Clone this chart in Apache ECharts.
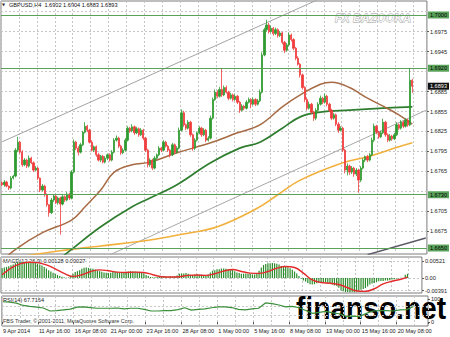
<!DOCTYPE html>
<html><head><meta charset="utf-8">
<script src="https://cdn.jsdelivr.net/npm/echarts@6/dist/echarts.min.js"></script>
<style>html,body{margin:0;padding:0;background:#fff}#c{width:450px;height:337px}</style>
</head><body><div id="c"></div>
<script>
// ---------- DATA ----------
const headerText = 'GBPUSD,H4  1.6902 1.6904 1.6883 1.6893';
const tickLabels = ['9 Apr 2014','11 Apr 16:00','16 Apr 08:00','21 Apr 00:00','23 Apr 16:00','28 Apr 08:00','1 May 00:00','5 May 16:00','8 May 08:00','13 May 00:00','15 May 16:00','20 May 08:00'];
const barSlots = 190;
const firstOpen = 1.6748;
const closes = [
 1.6745,1.6749,1.6743,1.6740,1.6755,1.6758,1.6797,1.6809,1.6794,1.6775,
 1.6782,1.6773,1.6785,1.6778,1.6767,1.6770,1.6755,1.6737,1.6743,1.6730,
 1.6715,1.6703,1.6722,1.6728,1.6718,1.6725,1.6716,1.6727,1.6722,1.6731,
 1.6725,1.6764,1.6809,1.6800,1.6794,1.6805,1.6824,1.6833,1.6827,1.6809,
 1.6797,1.6802,1.6790,1.6782,1.6788,1.6779,1.6785,1.6790,1.6782,1.6794,
 1.6812,1.6815,1.6803,1.6793,1.6797,1.6812,1.6830,1.6826,1.6832,1.6823,
 1.6829,1.6820,1.6827,1.6815,1.6797,1.6775,1.6782,1.6770,1.6785,1.6790,
 1.6800,1.6797,1.6809,1.6803,1.6797,1.6790,1.6805,1.6794,1.6800,1.6827,
 1.6853,1.6835,1.6830,1.6839,1.6820,1.6800,1.6812,1.6823,1.6830,1.6820,
 1.6827,1.6812,1.6815,1.6845,1.6873,1.6884,1.6878,1.6888,1.6880,1.6891,
 1.6884,1.6875,1.6880,1.6873,1.6878,1.6869,1.6857,1.6863,1.6860,1.6869,
 1.6873,1.6866,1.6873,1.6866,1.6871,1.6884,1.6940,1.6978,1.6985,1.6975,
 1.6980,1.6972,1.6978,1.6969,1.6973,1.6959,1.6947,1.6955,1.6970,1.6963,
 1.6950,1.6935,1.6926,1.6910,1.6891,1.6873,1.6860,1.6866,1.6854,1.6845,
 1.6857,1.6866,1.6875,1.6869,1.6878,1.6866,1.6857,1.6845,1.6850,1.6836,
 1.6827,1.6830,1.6797,1.6767,1.6773,1.6764,1.6770,1.6761,1.6767,1.6752,
 1.6770,1.6782,1.6787,1.6782,1.6790,1.6812,1.6833,1.6824,1.6817,1.6823,
 1.6839,1.6820,1.6812,1.6818,1.6814,1.6820,1.6835,1.6830,1.6839,1.6833,
 1.6842,1.6835,1.6902,1.6893];
// wick lengths in pips above max(open,close) / below min(open,close)
const upWick = [
 2,3,2,1,3,2,3,8,2,3, 3,2,4,2,2,3,2,1,3,2, 2,1,3,2,3,2,2,3,2,3, 2,3,4,2,3,3,2,6,2,2,
 3,2,2,3,2,2,3,2,2,3, 3,4,2,2,3,3,3,2,4,2, 3,2,3,2,2,2,3,2,3,2, 3,2,3,2,2,2,3,2,3,4,
 5,3,2,3,2,2,3,2,3,2, 3,2,3,4,3,4,3,4,32,3, 3,2,3,2,3,2,2,3,2,3, 3,2,3,2,3,4,4,3,8,3,
 4,2,3,2,3,2,2,3,4,2, 2,2,3,2,2,2,3,4,2,2, 3,3,4,2,4,2,2,2,3,2, 3,3,2,2,4,2,3,2,3,2,
 3,3,2,3,3,4,4,2,2,3, 5,2,2,3,2,3,4,2,3,2, 3,2,18,2];
const downWick = [
 2,3,2,3,2,2,2,3,2,3, 2,3,2,2,3,2,3,3,2,3, 3,6,2,3,2,3,46,2,3,2, 3,2,2,3,5,2,2,2,3,2,
 2,3,3,2,3,2,2,3,2,2, 2,2,3,3,2,2,2,3,2,3, 2,3,2,3,3,4,3,3,2,2, 2,3,2,2,3,4,2,3,2,2,
 2,3,3,2,3,4,3,2,2,3, 2,3,2,2,2,2,3,2,3,2, 2,3,2,3,2,3,4,2,3,2, 2,6,2,3,2,2,2,2,3,3,
 2,3,2,3,2,3,4,2,2,3, 3,3,2,4,3,4,3,2,3,4, 3,2,2,3,2,3,3,3,2,3, 4,2,3,5,8,4,3,4,3,19,
 3,2,3,3,2,2,3,3,3,2, 2,3,3,2,3,2,2,3,2,3, 2,3,2,10];
const priceGrid = [1.7005,1.6975,1.6945,1.6915,1.6885,1.6855,1.6825,1.6795,1.6765,1.6735,1.6705,1.6675];
const priceLabels = [1.6975,1.6945,1.6885,1.6855,1.6825,1.6795,1.6765,1.6705,1.6675];
const levelLines = [1.7000,1.6920,1.6730,1.6650];
const bidPrice = 1.6893;
// moving averages: [bar, price]
const maBrown = [[0,1.6630],[6,1.6648],[18,1.6673],[31,1.6692],[37,1.6712],[44,1.6737],[50,1.6764],[58,1.6775],[66,1.6779],[78,1.6793],[93,1.6808],[105,1.6823],[115,1.6835],[125,1.6862],[133,1.6880],[142,1.6896],[147,1.6899],[155,1.6891],[163,1.6875],[170,1.6863],[177,1.6850],[183,1.6836]];
const maGreen = [[21,1.6621],[31,1.6648],[44,1.6682],[58,1.6712],[66,1.6725],[78,1.6745],[93,1.6778],[106,1.6800],[115,1.6809],[125,1.6830],[133,1.6847],[142,1.6854],[155,1.6857],[170,1.6860],[183,1.6862]];
const maOrange = [[10,1.6638],[26,1.6646],[44,1.6653],[66,1.6662],[79,1.6670],[96,1.6682],[114,1.6710],[123,1.6730],[133,1.6752],[152,1.6778],[163,1.6787],[177,1.6802],[183,1.6808]];
// trend lines: [bar, price]
const channelUpper = [[0,1.68095],[189,1.7096]];
const channelLower = [[40,1.66273],[189,1.68568]];
const supportLine = [[163,1.6640],[189,1.66649]];
// MACD
const macdLabel = 'MACD(12,26,9) 0.00128 0.00027';
const macdValues = [
 .0030,.0032,.0034,.0036,.0039,.0041,.0045,.0048,.0049,.0049,
 .0050,.0050,.0050,.0049,.0048,.0046,.0044,.0041,.0038,.0034,
 .0029,.0024,.0020,.0016,.0013,.0009,.0006,.0004,.0002,.0001,
 .0002,.0006,.0013,.0018,.0021,.0024,.0028,.0031,.0032,.0031,
 .0029,.0028,.0026,.0023,.0021,.0019,.0017,.0016,.0015,.0016,
 .0018,.0019,.0018,.0016,.0016,.0017,.0019,.0020,.0021,.0020,
 .0020,.0019,.0019,.0017,.0014,.0009,.0006,.0003,.0002,.0002,
 .0003,.0003,.0005,.0005,.0005,.0004,.0005,.0004,.0005,.0008,
 .0013,.0014,.0014,.0015,.0013,.0010,.0009,.0010,.0011,.0010,
 .0010,.0008,.0008,.0011,.0017,.0022,.0024,.0027,.0027,.0029,
 .0029,.0028,.0027,.0025,.0024,.0021,.0017,.0015,.0013,.0013,
 .0014,.0012,.0012,.0011,.0011,.0014,.0022,.0032,.0040,.0043,
 .0045,.0045,.0046,.0045,.0044,.0041,.0037,.0035,.0035,.0033,
 .0030,.0025,.0020,.0014,.0006,-.0002,-.0008,-.0011,-.0015,-.0019,
 -.0020,-.0019,-.0016,-.0015,-.0012,-.0012,-.0013,-.0016,-.0017,-.0020,
 -.0023,-.0024,-.0030,-.0038,-.0041,-.0043,-.0043,-.0044,-.0043,-.0044,
 -.0042,-.0039,-.0036,-.0034,-.0031,-.0026,-.0020,-.0017,-.0015,-.0013,
 -.0010,-.0009,-.0009,-.0008,-.0008,-.0007,-.0005,-.0004,-.0002,-.0001,
 .0001,.0001,.0010,.00128];
const macdSignal = [[0,0.0010],[4,0.0030],[8,0.0043],[12,0.0048],[16,0.0047],[20,0.0040],[24,0.0028],[28,0.0014],[32,0.0005],[36,0.0010],[40,0.0020],[44,0.0025],[48,0.0022],[52,0.0018],[56,0.0017],[60,0.0018],[64,0.0017],[68,0.0010],[72,0.0004],[76,0.0003],[80,0.0004],[84,0.0008],[88,0.0009],[92,0.0008],[96,0.0013],[100,0.0021],[104,0.0026],[108,0.0020],[112,0.0015],[116,0.0014],[120,0.0020],[124,0.0030],[128,0.0035],[132,0.0032],[136,0.0015],[140,-0.0006],[144,-0.0014],[148,-0.0016],[152,-0.0020],[156,-0.0030],[160,-0.0040],[164,-0.0041],[168,-0.0033],[172,-0.0018],[176,-0.0010],[180,-0.0004],[183,0.00027]];
const macdTicks = [0.00521, 0, -0.00391];
// RSI: [bar, value]
const rsiLabel = 'RSI(14) 67.7164';
const rsiPoints = [[0,88],[3,86],[6,82],[9,72],[12,68],[15,65],[18,61],[21,48],[24,50],[27,53],[30,56],[33,65],[36,66],[39,63],[42,60],[45,60],[48,60],[51,61],[54,57],[57,60],[60,60],[63,55],[66,48],[69,48],[72,50],[75,50],[78,54],[81,62],[84,52],[87,55],[90,57],[93,62],[96,66],[99,66],[102,63],[105,55],[108,53],[111,57],[114,60],[117,83],[120,80],[123,74],[126,66],[129,68],[132,62],[135,50],[138,38],[141,42],[144,46],[147,40],[150,36],[153,25],[156,26],[159,24],[162,38],[165,48],[168,50],[171,50],[174,48],[177,53],[180,54],[183,67.7164]];
const rsiTicks = [100, 0];
const rsiLevels = [70, 30];
const copyrightText = 'FBS Trader, \u00a9 2001-2011, MetaQuotes Software Corp.';

// ---------- BUILD ----------
const cats = Array.from({length: barSlots}, (_, i) => String(i));
const candles = closes.map((c, i) => {
  const o = i === 0 ? firstOpen : closes[i - 1];
  const hi = Math.max(o, c) + upWick[i] * 1e-4;
  const lo = Math.min(o, c) - downWick[i] * 1e-4;
  return [o, c, lo, hi];
});
const FONT = '"Liberation Sans", Arial, sans-serif';
const gridDash = {type: [2, 2], color: '#c6c6c6', width: 1};
const GREEN_LVL = '#5aa25a';

function xAxisFor(g, showLabels) {
  return {
    type: 'category', gridIndex: g, data: cats, boundaryGap: true,
    axisLine: {show: false},
    axisTick: {show: showLabels, interval: (i) => i % 16 === 0, length: 2, lineStyle: {color: '#555'}},
    axisLabel: {show: showLabels, interval: (i) => i % 16 === 0,
      formatter: (v, i) => tickLabels[i / 16] || '', align: 'left',
      fontSize: 5.6, color: '#222', margin: 2, fontFamily: FONT},
    splitLine: {show: true, interval: (i) => i % 8 === 0, lineStyle: gridDash}
  };
}
function yAxisFor(g, min, max, ticks, fmt) {
  return {
    type: 'value', gridIndex: g, position: 'right', min: min, max: max,
    axisLine: {show: false}, splitLine: {show: false},
    axisTick: {show: true, customValues: ticks, length: 2, lineStyle: {color: '#555'}},
    axisLabel: {customValues: ticks, formatter: fmt, fontSize: 5.6, color: '#222', margin: 3, fontFamily: FONT}
  };
}
function gridLinesSeries(xi, yi, values) {
  return {type: 'line', xAxisIndex: xi, yAxisIndex: yi, data: [], silent: true, z: 1,
    markLine: {silent: true, z: 1, precision: 6, symbol: ['none', 'none'], animation: false,
      label: {show: false}, lineStyle: gridDash, data: values.map(v => ({yAxis: v}))}};
}
function boxLabel(text, bg, fg) {
  return {show: true, position: 'end', distance: 1, formatter: text, fontSize: 5.6,
    fontFamily: FONT, color: fg, backgroundColor: bg, padding: [1, 2, 0, 2]};
}

const option = {
  animation: false,
  backgroundColor: '#ffffff',
  grid: [
    {left: 1, top: 1, width: 427, height: 253, show: true, borderColor: '#7d7d7d', borderWidth: 1},
    {left: 1, top: 257, width: 427, height: 36, show: true, borderColor: '#7d7d7d', borderWidth: 1},
    {left: 1, top: 296, width: 427, height: 30, show: true, borderColor: '#7d7d7d', borderWidth: 1}
  ],
  xAxis: [xAxisFor(0, false), xAxisFor(1, false), xAxisFor(2, true)],
  yAxis: [
    yAxisFor(0, 1.6641, 1.7021, priceLabels, v => v.toFixed(4)),
    yAxisFor(1, -0.0046, 0.00643, macdTicks, v => v === 0 ? '0.00' : String(v)),
    yAxisFor(2, -17, 113, rsiTicks, v => String(v))
  ],
  series: [
    gridLinesSeries(0, 0, priceGrid),
    {type: 'line', name: 'channelUpper', xAxisIndex: 0, yAxisIndex: 0, data: channelUpper, showSymbol: false, silent: true,
      lineStyle: {color: '#a3a3a3', width: 1}, z: 2},
    {type: 'line', name: 'channelLower', xAxisIndex: 0, yAxisIndex: 0, data: channelLower, showSymbol: false, silent: true,
      lineStyle: {color: '#a8a8a8', width: 1}, z: 2},
    {type: 'line', name: 'support', xAxisIndex: 0, yAxisIndex: 0, data: supportLine, showSymbol: false, silent: true,
      lineStyle: {color: '#5a5a66', width: 1.5}, z: 2},
    {type: 'line', name: 'levels', xAxisIndex: 0, yAxisIndex: 0, data: [], silent: true, z: 2,
      markLine: {silent: true, precision: 6, symbol: ['none', 'none'], animation: false,
        data: levelLines.map(v => ({yAxis: v, lineStyle: {color: GREEN_LVL, width: 1.2, type: 'solid'},
          label: boxLabel(v.toFixed(4), GREEN_LVL, '#000')}))
          .concat([{yAxis: bidPrice, lineStyle: {color: 'rgba(0,0,0,0)', width: 1},
            label: boxLabel(bidPrice.toFixed(4), '#111111', '#ffffff')}])}},
    {type: 'line', name: 'MA orange', xAxisIndex: 0, yAxisIndex: 0, data: maOrange, smooth: 0.4, showSymbol: false,
      lineStyle: {color: '#f2b03c', width: 1.6}, z: 3},
    {type: 'line', name: 'MA green', xAxisIndex: 0, yAxisIndex: 0, data: maGreen, smooth: 0.4, showSymbol: false,
      lineStyle: {color: '#2f7d2f', width: 1.7}, z: 3},
    {type: 'line', name: 'MA brown', xAxisIndex: 0, yAxisIndex: 0, data: maBrown, smooth: 0.4, showSymbol: false,
      lineStyle: {color: '#a66a44', width: 1.5}, z: 3},
    {type: 'candlestick', name: 'GBPUSD', xAxisIndex: 0, yAxisIndex: 0, data: candles, barWidth: 1.8, z: 4,
      itemStyle: {color: '#2f9a2f', color0: '#f03c3c', borderColor: '#2f9a2f', borderColor0: '#f03c3c', borderWidth: 0.8}},
    gridLinesSeries(1, 1, macdTicks),
    {type: 'bar', name: 'MACD', xAxisIndex: 1, yAxisIndex: 1, data: macdValues, barWidth: 1.2,
      itemStyle: {color: '#2a8c2a'}, z: 3},
    {type: 'line', name: 'Signal', xAxisIndex: 1, yAxisIndex: 1, data: macdSignal, smooth: 0.4, showSymbol: false,
      lineStyle: {color: '#e32b2b', width: 1.4}, z: 4},
    gridLinesSeries(2, 2, rsiLevels),
    {type: 'line', name: 'RSI', xAxisIndex: 2, yAxisIndex: 2, data: rsiPoints, showSymbol: false,
      lineStyle: {color: '#3a8f3a', width: 1.2}, z: 3}
  ],
  graphic: [
    {type: 'text', x: 2, y: 2, style: {text: '\u25BC', font: '4px "DejaVu Sans"', fill: '#333'}},
    {type: 'text', x: 9, y: 2, style: {text: headerText, font: '5.6px ' + FONT, fill: '#111'}},
    {type: 'text', x: 3, y: 258, style: {text: macdLabel, font: '5.6px ' + FONT, fill: '#222'}},
    {type: 'text', x: 3, y: 297, style: {text: rsiLabel, font: '5.6px ' + FONT, fill: '#222'}},
    {type: 'text', x: 3, y: 318, style: {text: copyrightText, font: '5.4px ' + FONT, fill: '#333'}},
    {type: 'text', x: 335, y: 12, style: {text: 'FX BAZOOKA', font: 'italic bold 11.5px ' + FONT,
      fill: '#f6f6f6', stroke: '#9a9a9a', lineWidth: 0.8}},
    {type: 'text', x: 296, y: 292, scaleX: 0.88, style: {text: 'finanso.net', font: 'bold 32px ' + FONT, fill: '#000'}}
  ]
};
const chart = echarts.init(document.getElementById('c'), null, {renderer: 'svg'});
chart.setOption(option);
</script>
</body></html>
